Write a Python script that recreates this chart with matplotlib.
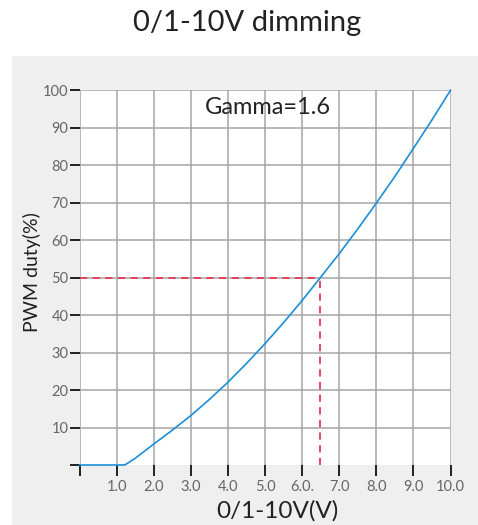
import matplotlib
matplotlib.use("Agg")
import matplotlib.pyplot as plt
from matplotlib.patches import Rectangle

plt.rcParams['font.family'] = ['Lato', 'DejaVu Sans']

# Data
voltage = [0.0, 1.22, 1.5, 2.0, 2.5, 3.0, 3.5, 4.0, 4.5, 5.0, 5.5, 6.0, 6.49, 7.0, 7.5, 8.0, 8.5, 9.0, 9.5, 10.0]
duty = [0.0, 0.0, 1.8, 5.6, 9.3, 13.2, 17.5, 22.1, 27.1, 32.4, 38.0, 43.9, 50.0, 56.4, 63.0, 69.9, 77.0, 84.5, 92.1, 100.0]
marker_v = 6.49
marker_duty = 50
x_ticks = [0, 1, 2, 3, 4, 5, 6, 7, 8, 9, 10]
x_tick_labels = ['', '1.0', '2.0', '3.0', '4.0', '5.0', '6.0.', '7.0', '8.0', '9.0', '10.0']
y_ticks = [0, 10, 20, 30, 40, 50, 60, 70, 80, 90, 100]
y_tick_labels = ['', '10', '20', '30', '40', '50', '60', '70', '80', '90', '100']
title = '0/1-10V dimming'
annotation = 'Gamma=1.6'

W, H = 478, 525
fig = plt.figure(figsize=(W / 100, H / 100), dpi=100)
fig.patch.set_facecolor('white')
fig.patches.append(Rectangle((12 / W, 0), 1 - 12 / W, (H - 56) / H,
                             transform=fig.transFigure, facecolor='#eeefee',
                             edgecolor='none', zorder=-5))

ax = fig.add_axes([79.6 / W, (H - 465) / H, (450.5 - 79.6) / W, (465 - 90.3) / H])
ax.set_zorder(1)
ax.set_facecolor('white')
ax.set_xlim(0, 10)
ax.set_ylim(0, 100)
for s in ax.spines.values():
    s.set_visible(False)

grid_c = '#a6a6a6'
for xv in x_ticks:
    ax.plot([xv, xv], [0, 100], color=grid_c, lw=1.1, zorder=1, solid_capstyle='butt')
for yv in y_ticks[1:]:
    ax.plot([0, 10], [yv, yv], color=grid_c, lw=1.1, zorder=1, solid_capstyle='butt')

ax.plot(voltage, duty, color='#1a8fd8', lw=1.2, zorder=3, clip_on=False)
ax.plot([0, marker_v], [marker_duty, marker_duty], color='#e8384f', lw=1.3,
        dashes=(4, 3), zorder=2)
ax.plot([marker_v, marker_v], [0, marker_duty], color='#e8384f', lw=1.3,
        dashes=(4, 3), zorder=2)

ax.set_xticks(x_ticks)
ax.set_xticklabels(x_tick_labels)
ax.set_yticks(y_ticks)
ax.set_yticklabels(y_tick_labels)
ax.tick_params(axis='both', direction='out', color='#111111', width=1.3,
               labelcolor='#666666', labelsize=10.5)
ax.tick_params(axis='x', length=8, pad=3)
ax.tick_params(axis='y', length=7, pad=1)

ax.text(5.08, 95.5, annotation, ha='center', va='center', fontsize=17,
        color='#222222')

ax.set_xlabel('0/1-10V(V)', fontsize=17.5, color='#222222')
ax.xaxis.set_label_coords((277 - 79.6) / (450.5 - 79.6), -(511 - 465) / (465 - 90.3))
ax.set_ylabel('PWM duty(%)', fontsize=14, color='#222222')
ax.yaxis.set_label_coords(-(79.6 - 32) / (450.5 - 79.6), (465 - 272) / (465 - 90.3))
for lab in [ax.xaxis.label, ax.yaxis.label]:
    lab.set_va('center')

fig.text(247 / W, 1 - 23 / H, title, ha='center', va='center', fontsize=21,
         color='#222222')

fig.savefig('out.png', dpi=100)
